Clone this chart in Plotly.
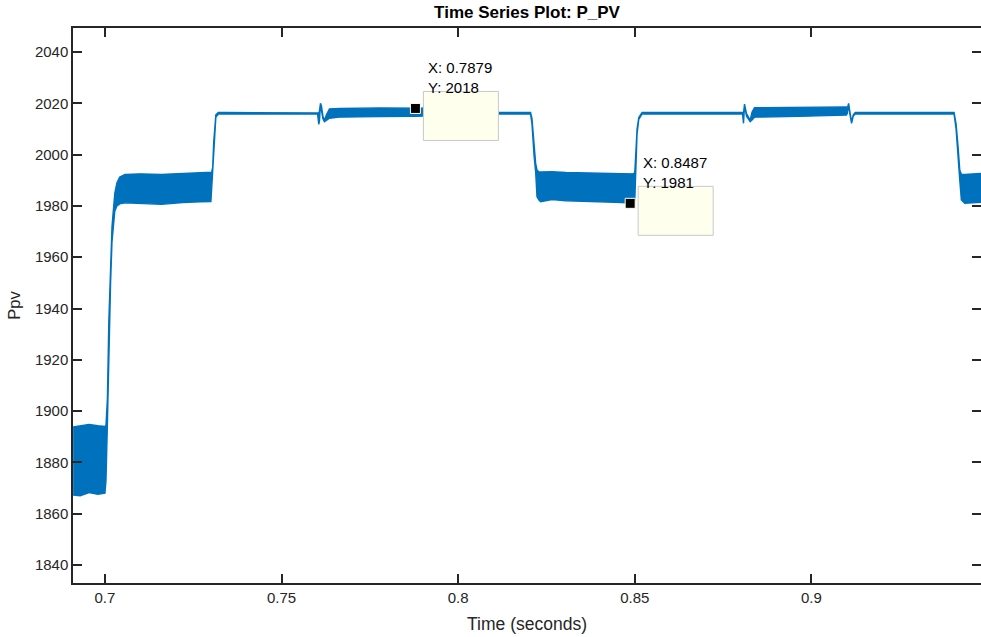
import plotly.graph_objects as go

# Envelope of the P_PV signal (time in seconds, upper / lower envelope in W)
t = [0.6910, 0.6930, 0.6955, 0.6980, 0.7000, 0.7003, 0.7007, 0.7011, 0.7016, 0.7020,
     0.7023, 0.7028, 0.7034, 0.7042, 0.7057, 0.7100, 0.7160, 0.7220, 0.7270, 0.7300,
     0.7302, 0.7305, 0.7308, 0.7314, 0.7321, 0.7340, 0.7602, 0.76054, 0.76073, 0.76102,
     0.76130, 0.76172, 0.76215, 0.76271, 0.76356, 0.76638, 0.77768, 0.78757, 0.79011, 0.7905,
     0.7910, 0.7914, 0.7921, 0.8205, 0.8209, 0.82147, 0.82195, 0.82232, 0.82288, 0.82336,
     0.82655, 0.83051, 0.83983, 0.84633, 0.84958, 0.8500, 0.85028, 0.85065, 0.85113, 0.85206,
     0.88051, 0.88079, 0.88107, 0.88164, 0.88268, 0.88319, 0.88390, 0.89633, 0.90989, 0.91017,
     0.91054, 0.91088, 0.91138, 0.91186, 0.91243, 0.94040, 0.94096, 0.94153, 0.94201, 0.94246,
     0.94342, 0.94850]
upper = [1893.8, 1894.3, 1894.8, 1894.3, 1894.0, 1894.5, 1905.0, 1935.0, 1960.0, 1972.0,
         1977.0, 1985.0, 1989.0, 1991.3, 1992.3, 1992.5, 1992.3, 1992.6, 1993.0, 1993.1,
         1993.1, 1995.0, 2005.0, 2015.5, 2016.4, 2016.4, 2016.3, 2016.2, 2017.0, 2020.0,
         2019.0, 2015.0, 2013.4, 2015.5, 2017.8, 2018.0, 2018.2, 2018.2, 2018.1, 2020.0,
         2016.0, 2012.7, 2016.4, 2016.4, 2014.0, 2003.0, 1996.5, 1994.0, 1993.2, 1993.2,
         1993.3, 1993.0, 1992.8, 1992.6, 1992.5, 1993.0, 2003.0, 2010.0, 2014.5, 2016.4,
         2016.4, 2016.2, 2019.7, 2016.0, 2013.4, 2016.5, 2018.3, 2018.4, 2018.6, 2018.0,
         2020.0, 2017.0, 2012.7, 2015.5, 2016.4, 2016.4, 2012.0, 2003.1, 1994.0, 1992.3,
         1992.3, 1992.7]
lower = [1867.3, 1867.0, 1868.2, 1867.6, 1868.0, 1873.0, 1895.0, 1925.0, 1950.0, 1966.0,
         1972.0, 1978.0, 1980.0, 1980.8, 1981.2, 1981.0, 1980.6, 1981.3, 1981.6, 1981.7,
         1982.0, 1990.0, 2000.0, 2014.5, 2015.8, 2015.8, 2015.9, 2011.8, 2013.0, 2019.4,
         2018.0, 2014.0, 2012.8, 2013.5, 2014.2, 2014.6, 2014.8, 2014.9, 2015.0, 2019.4,
         2015.0, 2012.2, 2015.8, 2015.8, 2012.0, 2000.0, 1993.0, 1983.6, 1982.3, 1981.6,
         1982.5, 1982.0, 1981.6, 1981.3, 1981.0, 1982.0, 1990.0, 2008.0, 2013.7, 2015.8,
         2015.8, 2012.2, 2019.1, 2015.0, 2012.8, 2013.5, 2014.6, 2014.9, 2015.4, 2016.0,
         2019.4, 2016.0, 2012.2, 2015.0, 2015.8, 2015.8, 2010.0, 2000.0, 1990.0, 1982.3,
         1981.0, 1981.4]

# Data tips
tip_x = [0.7879, 0.8487]
tip_y = [2018, 1981]

x_ticks = [0.7, 0.75, 0.8, 0.85, 0.9]
x_ticktext = ["0.7", "0.75", "0.8", "0.85", "0.9"]
y_ticks = [1840, 1860, 1880, 1900, 1920, 1940, 1960, 1980, 2000, 2020, 2040]
x_range = [0.69096, 0.94802]
y_range = [1832.98, 2049.36]

BLUE = "#0072BD"
AX = "#262626"
FONT = "Liberation Sans, Arial, Helvetica, sans-serif"

fig = go.Figure()
fig.add_trace(go.Scatter(
    x=t + t[::-1], y=upper + lower[::-1],
    mode="lines", fill="toself", fillcolor=BLUE,
    line=dict(color=BLUE, width=1.4), hoverinfo="skip", showlegend=False))

fig.add_trace(go.Scatter(
    x=tip_x, y=tip_y, mode="markers",
    marker=dict(symbol="square", size=10, color="black",
                line=dict(color="#FFFFEE", width=1)),
    showlegend=False, hoverinfo="skip"))

shapes = []
annotations = []
for xv, yv in zip(tip_x, tip_y):
    shapes.append(dict(type="rect", xref="x", yref="y", layer="above",
                       xsizemode="pixel", ysizemode="pixel",
                       xanchor=xv, yanchor=yv, x0=8, x1=83, y0=17, y1=-32,
                       fillcolor="#FFFFEE", line=dict(color="#C8C8C8", width=1)))
    annotations.append(dict(x=xv, y=yv, xref="x", yref="y", text=f"X: {xv:.4f}",
                            showarrow=False, xanchor="left", yanchor="middle",
                            xshift=11, yshift=41, font=dict(size=15, color="black", family=FONT)))
    annotations.append(dict(x=xv, y=yv, xref="x", yref="y", text=f"Y: {yv}",
                            showarrow=False, xanchor="left", yanchor="middle",
                            xshift=11, yshift=21, font=dict(size=15, color="black", family=FONT)))

fig.update_layout(
    width=983, height=637,
    margin=dict(l=73, r=0, t=28, b=54),
    paper_bgcolor="white", plot_bgcolor="white",
    font=dict(family=FONT, color=AX, size=15),
    title=dict(text="<b>Time Series Plot: P_PV</b>", x=(527 / 983), xanchor="center",
               y=0.981, yanchor="middle", font=dict(size=17, color="black")),
    shapes=shapes, annotations=annotations,
    xaxis=dict(range=x_range, tickvals=x_ticks, ticktext=x_ticktext,
               ticks="inside", ticklen=9, tickwidth=1.5, tickcolor=AX,
               showline=True, linecolor=AX, linewidth=1.5, mirror="ticks",
               showgrid=False, zeroline=False,
               title=dict(text="Time (seconds)", standoff=13, font=dict(size=17.5)),
               tickfont=dict(size=15)),
    yaxis=dict(range=y_range, tickvals=y_ticks,
               ticks="inside", ticklen=9, tickwidth=1.5, tickcolor=AX,
               showline=True, linecolor=AX, linewidth=1.5, mirror="ticks",
               showgrid=False, zeroline=False,
               title=dict(text="Ppv", standoff=10, font=dict(size=16.5)),
               tickfont=dict(size=15)),
)

fig.write_html(
    "out.html",
    config={"displayModeBar": False},
    post_script="document.body.style.margin='0';document.body.style.overflow='hidden';",
)
